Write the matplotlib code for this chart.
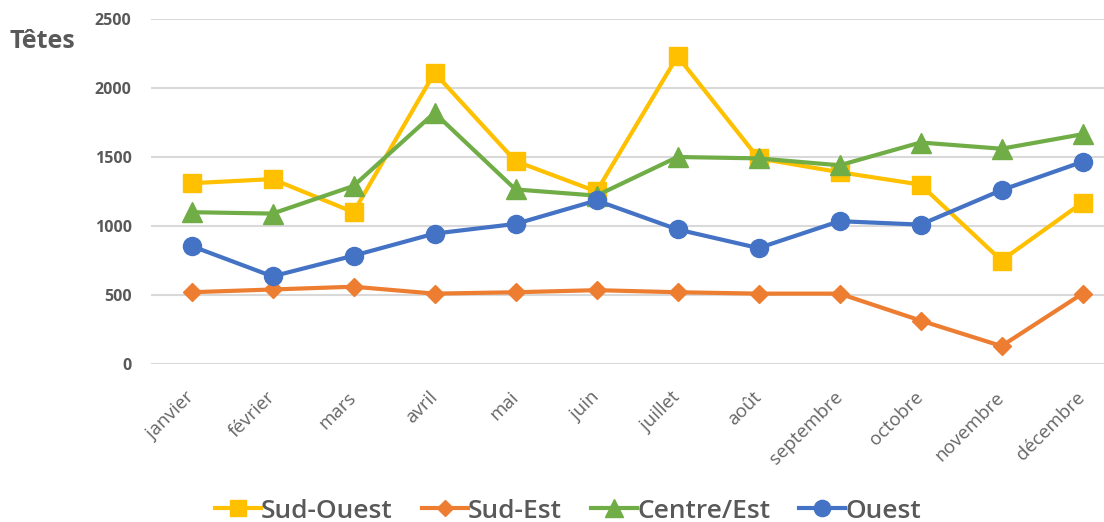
import matplotlib.pyplot as plt

# month labels
mois = ['janvier', 'février', 'mars', 'avril', 'mai', 'juin', 'juillet',
        'août', 'septembre', 'octobre', 'novembre', 'décembre']

# head counts per region
sud_ouest = [1310, 1340, 1100, 2110, 1470, 1250, 2230, 1490, 1390, 1300, 750, 1170]
sud_est = [520, 540, 560, 510, 520, 535, 520, 510, 510, 315, 130, 510]
centre_est = [1100, 1090, 1290, 1820, 1265, 1220, 1500, 1490, 1440, 1605, 1560, 1665]
ouest = [855, 635, 785, 945, 1015, 1185, 975, 840, 1035, 1010, 1260, 1465]

grey = '#595959'
plt.rcParams['font.family'] = ['Open Sans', 'DejaVu Sans']

fig = plt.figure(figsize=(11.04, 5.22), dpi=100)
W, H = 1104, 522
# axes spans past the right edge like the original
ax = fig.add_axes([151 / W, (H - 364) / H, 972 / W, 345 / H])

x = range(len(mois))
ax.plot(x, sud_ouest, color='#FFC000', lw=3, marker='s', ms=13, label='Sud-Ouest')
ax.plot(x, sud_est, color='#ED7D31', lw=3, marker='D', ms=9, label='Sud-Est')
ax.plot(x, centre_est, color='#70AD47', lw=3, marker='^', ms=14, label='Centre/Est')
ax.plot(x, ouest, color='#4472C4', lw=3, marker='o', ms=13, label='Ouest')

ax.set_xlim(-0.5, 11.5)
ax.set_ylim(0, 2500)
ax.set_yticks([0, 500, 1000, 1500, 2000, 2500])
ax.set_xticks(list(x))
# centre the slanted labels on the diagonal through the tick
ax.set_xticklabels(mois, rotation=45, ha='right', va='center',
                   rotation_mode='anchor', fontsize=13.5, color='#666666')
for lab in ax.get_yticklabels():
    lab.set_fontweight('bold')
    lab.set_fontsize(11.5)
    lab.set_color(grey)
ax.tick_params(length=0, pad=14)
ax.tick_params(axis='x', pad=22)
ax.grid(axis='y', color='#D9D9D9', lw=1.5)
ax.set_axisbelow(True)
for s in ax.spines.values():
    s.set_visible(False)

fig.text(10 / W, 1 - 42 / H, 'Têtes', fontsize=18, fontweight='bold',
         color=grey, va='center', ha='left')

fig.legend(loc='center', bbox_to_anchor=(568 / W, 1 - 511 / H), ncol=4,
           frameon=False, handlelength=1.75, handletextpad=0.0,
           columnspacing=1.1, prop={'size': 19, 'weight': 'semibold'},
           labelcolor=grey, markerscale=0.9)

fig.savefig('out.png', dpi=100)
